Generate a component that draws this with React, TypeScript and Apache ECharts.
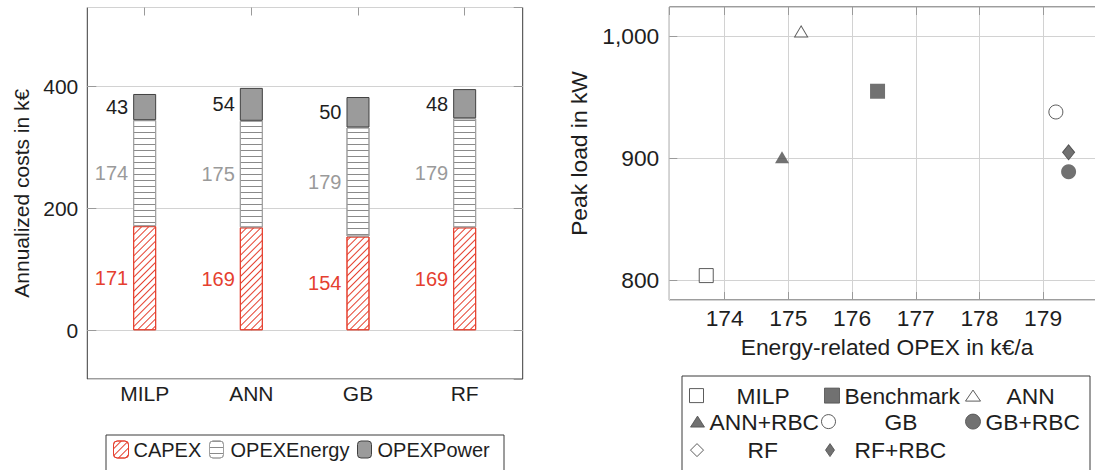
import React, { useEffect, useRef } from 'react';
import * as echarts from 'echarts';

// ---------- data ----------
const methods = ['MILP', 'ANN', 'GB', 'RF'];
const capex = [171, 169, 154, 169];
const opexEnergy = [174, 175, 179, 179];
const opexPower = [43, 54, 50, 48];

const scatterNames = ['MILP', 'Benchmark', 'ANN', 'ANN+RBC', 'GB', 'GB+RBC', 'RF', 'RF+RBC'];
const energyOpex = [173.71, 176.4, 175.2, 174.9, 179.2, 179.4, 179.4, 179.4];
const peakLoad = [804, 955, 1004, 901, 938, 889, 905, 905];

const FONT = '"Liberation Sans", Arial, Helvetica, sans-serif';
const TXT = '#1e1e1e';
const RED = '#e5402f';
const GRAY_LBL = '#9a9a9a';
const DARK = '#4d4d4d';
const FRAME = '#3a3a3a';
const GRID = '#d2d2d2';
const TICK = '#9a9a9a';

const W = 1112; // canvas is wider than the window: right plot is cropped like the reference
const H = 470;

const symbolStyle: Record<string, { symbol: string; size: number[]; filled: boolean }> = {
  MILP: { symbol: 'rect', size: [14, 14], filled: false },
  Benchmark: { symbol: 'rect', size: [15, 15], filled: true },
  ANN: { symbol: 'triangle', size: [13, 11], filled: false },
  'ANN+RBC': { symbol: 'triangle', size: [14, 12], filled: true },
  GB: { symbol: 'circle', size: [14, 14], filled: false },
  'GB+RBC': { symbol: 'circle', size: [15, 15], filled: true },
  RF: { symbol: 'diamond', size: [12, 15], filled: false },
  'RF+RBC': { symbol: 'diamond', size: [12, 15], filled: true },
};

function legendAt(name: string, left: number, cy: number, w: number, h: number, pad: number, fs: number, pt = 0) {
  return {
    data: [name],
    left,
    top: cy - Math.max(h, fs + pt) / 2,
    orient: 'horizontal',
    itemWidth: w,
    itemHeight: h,
    padding: 0,
    itemGap: 0,
    selectedMode: false,
    itemStyle: { borderWidth: 1 },
    textStyle: { fontSize: fs, lineHeight: fs, fontFamily: FONT, color: TXT, padding: [pt, 0, 0, pad] },
  };
}

export default function App() {
  const ref = useRef<HTMLDivElement>(null);
  useEffect(() => {
    if (!ref.current) return;
    const chart = echarts.init(ref.current, undefined, { renderer: 'svg' });

    const intLabel = (step: number) => (v: number) => {
      const r = Math.round(v);
      return Math.abs(v - r) < 1e-6 && r % step === 0 ? r.toLocaleString('en-US') : '';
    };

    const barLabel = (color: string) => ({
      show: true,
      position: 'left',
      distance: 5,
      color,
      fontSize: 20,
      fontFamily: FONT,
    });

    const scatterSeries = scatterNames.map((name, i) => {
      const st = symbolStyle[name];
      return {
        type: 'scatter',
        name,
        xAxisIndex: 4,
        yAxisIndex: 4,
        symbol: st.symbol,
        symbolSize: st.size,
        itemStyle: st.filled
          ? { color: DARK, borderColor: DARK, borderWidth: 0 }
          : { color: '#ffffff', borderColor: '#333333', borderWidth: 1 },
        data: [[energyOpex[i], peakLoad[i]]],
      };
    });

    const RS = 22.8; // right-figure font size
    const LS = 21; // left-figure axis font size

    const option: any = {
      animation: false,
      backgroundColor: '#ffffff',
      textStyle: { fontFamily: FONT },
      grid: [
        // 0: left frame
        { left: 87.3, top: 7.5, right: W - 522.7, bottom: H - 379, show: true, borderColor: FRAME, borderWidth: 1, backgroundColor: 'transparent' },
        // 1: left bars
        { left: 91.33, top: 7.5, right: W - 518, bottom: H - 379 },
        // 2: right scatter
        { left: 669.3, top: 7, right: W - 1104.9, bottom: 170, show: true, borderColor: FRAME, borderWidth: 1, backgroundColor: 'transparent' },
      ],
      xAxis: [
        { gridIndex: 0, type: 'value', show: false, min: 0, max: 1 },
        {
          gridIndex: 1, type: 'category', data: methods, position: 'bottom',
          axisLine: { show: false },
          axisTick: { show: true, inside: true, length: 10, alignWithLabel: true, lineStyle: { color: TICK } },
          axisLabel: { fontSize: LS, color: TXT, margin: 4, fontFamily: FONT },
        },
        {
          gridIndex: 1, type: 'category', data: methods, position: 'top',
          axisLine: { show: false },
          axisTick: { show: true, inside: true, length: 8, alignWithLabel: true, lineStyle: { color: TICK } },
          axisLabel: { show: false },
        },
        { gridIndex: 2, type: 'value', position: 'top', min: 173.13, max: 179.97, minInterval: 1, maxInterval: 1,
          axisLine: { show: false }, axisLabel: { show: false }, splitLine: { show: false },
          axisTick: { show: true, inside: true, length: 8, lineStyle: { color: TICK } } },
        {
          gridIndex: 2, type: 'value', position: 'bottom', min: 173.13, max: 179.97, minInterval: 1, maxInterval: 1,
          name: 'Energy-related OPEX in k€/a', nameLocation: 'middle', nameGap: 35,
          nameTextStyle: { fontSize: RS, color: TXT, fontFamily: FONT },
          axisLine: { show: false },
          axisTick: { show: true, inside: true, length: 8, lineStyle: { color: TICK } },
          axisLabel: { fontSize: RS, color: TXT, margin: 6, fontFamily: FONT, formatter: intLabel(1), showMinLabel: false, showMaxLabel: false },
          splitLine: { show: true, lineStyle: { color: GRID, width: 1 } },
        },
      ],
      yAxis: [
        {
          gridIndex: 0, type: 'value', min: -80, max: 530, minInterval: 200, maxInterval: 200,
          name: 'Annualized costs in k€', nameLocation: 'middle', nameGap: 55,
          nameTextStyle: { fontSize: LS, color: TXT, fontFamily: FONT },
          axisLine: { show: false },
          axisTick: { show: true, inside: true, length: 9, lineStyle: { color: TICK } },
          axisLabel: { fontSize: LS, color: TXT, margin: 9, fontFamily: FONT, formatter: intLabel(200), showMinLabel: false, showMaxLabel: false },
          splitLine: { show: true, lineStyle: { color: GRID, width: 1 } },
        },
        { gridIndex: 1, type: 'value', min: -80, max: 530, show: false },
        {
          gridIndex: 0, type: 'value', position: 'right', min: -80, max: 530, minInterval: 200, maxInterval: 200,
          axisLine: { show: false }, axisLabel: { show: false }, splitLine: { show: false },
          axisTick: { show: true, inside: true, length: 9, lineStyle: { color: TICK } },
        },
        {
          gridIndex: 2, type: 'value', position: 'right', min: 784, max: 1024, minInterval: 100, maxInterval: 100,
          axisLine: { show: false }, axisLabel: { show: false }, splitLine: { show: false },
          axisTick: { show: true, inside: true, length: 8, lineStyle: { color: TICK } },
        },
        {
          gridIndex: 2, type: 'value', position: 'left', min: 784, max: 1024, minInterval: 100, maxInterval: 100,
          name: 'Peak load in kW', nameLocation: 'middle', nameGap: 79,
          nameTextStyle: { fontSize: RS, color: TXT, fontFamily: FONT },
          axisLine: { show: false },
          axisTick: { show: true, inside: true, length: 8, lineStyle: { color: TICK } },
          axisLabel: { fontSize: RS, color: TXT, margin: 10, fontFamily: FONT, formatter: intLabel(100), showMinLabel: false, showMaxLabel: false },
          splitLine: { show: true, lineStyle: { color: GRID, width: 1 } },
        },
      ],
      legend: [
        legendAt('CAPEX', 113, 449.5, 15, 17, 0, 20, 5),
        legendAt('OPEXEnergy', 209, 449.5, 14, 17, 2, 20, 5),
        legendAt('OPEXPower', 357, 449.5, 14, 17, 1, 20, 5),
        legendAt('MILP', 689, 395.5, 14, 14, 28, RS),
        legendAt('Benchmark', 824, 395.5, 15, 15, 0, RS),
        legendAt('ANN', 965, 395.5, 15, 11, 21, RS),
        legendAt('ANN+RBC', 690, 421.5, 14, 11, 0, RS),
        legendAt('GB', 821, 421.5, 14, 14, 44, RS),
        legendAt('GB+RBC', 965, 421.5, 15, 15, 0, RS),
        legendAt('RF', 690, 450, 13, 13, 39, RS),
        legendAt('RF+RBC', 825, 450, 9, 13, 15, RS),
      ],
      graphic: [
        { type: 'rect', shape: { x: 106, y: 435, width: 398, height: 60 }, style: { fill: 'none', stroke: FRAME, lineWidth: 1 }, silent: true },
        { type: 'rect', shape: { x: 682, y: 376, width: 408, height: 120 }, style: { fill: 'none', stroke: FRAME, lineWidth: 1 }, silent: true },
      ],
      series: [
        {
          type: 'bar', name: 'CAPEX', stack: 'total', xAxisIndex: 1, yAxisIndex: 1, barWidth: 23,
          itemStyle: {
            color: '#ffffff', borderColor: RED, borderWidth: 1,
            decal: { symbol: 'rect', symbolSize: 1, color: RED, backgroundColor: '#ffffff', dashArrayX: [1, 0], dashArrayY: [1, 4], rotation: -Math.PI / 4 },
          },
          label: barLabel(RED),
          data: capex,
        },
        {
          type: 'bar', name: 'OPEXEnergy', stack: 'total', xAxisIndex: 1, yAxisIndex: 1, barWidth: 23,
          itemStyle: {
            color: '#ffffff', borderColor: '#a0a0a0', borderWidth: 1,
            decal: { symbol: 'rect', symbolSize: 1, color: '#8a8a8a', backgroundColor: '#ffffff', dashArrayX: [1, 0], dashArrayY: [1, 5], rotation: 0 },
          },
          label: barLabel(GRAY_LBL),
          data: opexEnergy,
        },
        {
          type: 'bar', name: 'OPEXPower', stack: 'total', xAxisIndex: 1, yAxisIndex: 1, barWidth: 23,
          itemStyle: { color: '#9b9b9b', borderColor: '#404040', borderWidth: 1 },
          label: barLabel(TXT),
          data: opexPower,
        },
        ...scatterSeries,
      ],
    };

    chart.setOption(option);
    return () => chart.dispose();
  }, []);

  return (
    <div style={{ position: 'absolute', left: 0, top: 0, width: 1095, height: H, overflow: 'hidden' }}>
      <div ref={ref} style={{ width: W, height: H }} />
    </div>
  );
}
